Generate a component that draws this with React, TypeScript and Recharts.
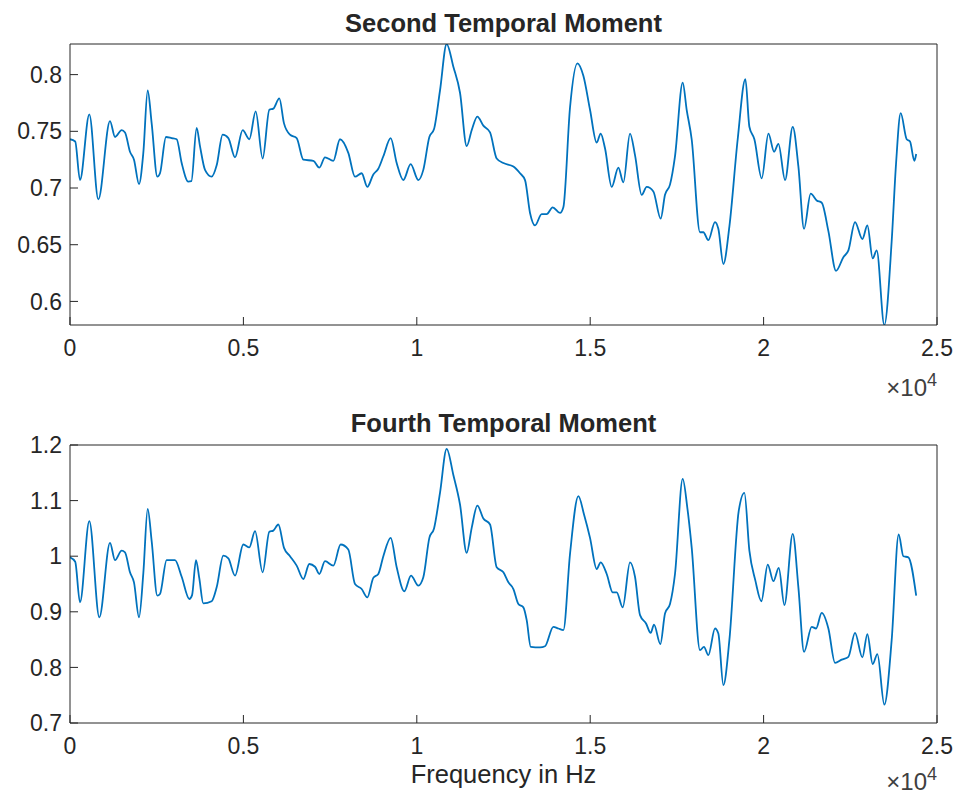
import { LineChart, Line, XAxis, YAxis } from 'recharts';

const FONT = '"Liberation Sans", Arial, Helvetica, sans-serif';
const INK = '#262626';
const BLUE = '#0072BD';

const FREQ_TICKS = [0, 5000, 10000, 15000, 20000, 25000];
const SECOND_TICKS = [0.6, 0.65, 0.7, 0.75, 0.8];
const FOURTH_TICKS = [0.7, 0.8, 0.9, 1, 1.1, 1.2];

// second temporal moment
const secondFreq = [
  0, 150, 288, 557, 817, 1153, 1298, 1490, 1586, 1730, 1845, 1990, 2114, 2240, 2355, 2518, 2595,
  2768, 2931, 3076, 3220, 3412, 3500, 3652, 3748, 3893, 4085, 4229, 4402, 4566, 4758, 4979, 5171,
  5354, 5555, 5748, 5863, 6036, 6171, 6344, 6536, 6728, 7017, 7190, 7353, 7593, 7785, 8025, 8218,
  8410, 8573, 8746, 8890, 9035, 9247, 9420, 9611, 9823, 10044, 10188, 10362, 10497, 10669, 10861,
  11054, 11246, 11439, 11583, 11746, 11919, 12112, 12304, 12497, 12785, 12977, 13121, 13265, 13409,
  13601, 13745, 13918, 14130, 14226, 14418, 14630, 14803, 14995, 15187, 15302, 15427, 15620, 15812,
  15956, 16148, 16292, 16485, 16629, 16821, 17033, 17157, 17301, 17445, 17667, 17782, 17926, 18166,
  18262, 18406, 18599, 18695, 18840, 19013, 19253, 19475, 19590, 19734, 19946, 20139, 20302, 20427,
  20619, 20840, 21003, 21166, 21358, 21531, 21676, 21868, 22089, 22300, 22445, 22636, 22848, 22992,
  23146, 23261, 23481, 23693, 23818, 23953, 24126, 24222, 24347, 24400,
];
const secondMoment = [
  0.743, 0.741, 0.707, 0.765, 0.69, 0.759, 0.745, 0.751, 0.749, 0.732, 0.725, 0.7035, 0.731, 0.786,
  0.757, 0.71, 0.713, 0.745, 0.744, 0.743, 0.722, 0.7056, 0.706, 0.753, 0.737, 0.716, 0.71, 0.72,
  0.747, 0.744, 0.727, 0.751, 0.743, 0.7675, 0.726, 0.769, 0.77, 0.779, 0.757, 0.747, 0.744, 0.725,
  0.724, 0.718, 0.727, 0.724, 0.743, 0.731, 0.71, 0.713, 0.701, 0.712, 0.717, 0.728, 0.744, 0.722,
  0.707, 0.721, 0.707, 0.716, 0.745, 0.752, 0.786, 0.827, 0.807, 0.784, 0.737, 0.751, 0.763, 0.755,
  0.749, 0.726, 0.722, 0.719, 0.713, 0.707, 0.678, 0.667, 0.677, 0.677, 0.683, 0.678, 0.683, 0.771,
  0.81, 0.799, 0.769, 0.74, 0.748, 0.735, 0.701, 0.718, 0.705, 0.748, 0.729, 0.694, 0.701, 0.697,
  0.673, 0.694, 0.703, 0.728, 0.793, 0.769, 0.743, 0.661, 0.661, 0.654, 0.67, 0.664, 0.633, 0.666,
  0.743, 0.796, 0.754, 0.743, 0.7085, 0.748, 0.732, 0.739, 0.707, 0.754, 0.719, 0.664, 0.695, 0.689,
  0.687, 0.662, 0.627, 0.639, 0.645, 0.67, 0.655, 0.667, 0.638, 0.645, 0.5792, 0.653, 0.721, 0.766,
  0.743, 0.741, 0.724, 0.73,
];

// fourth temporal moment
const fourthFreq = [
  0, 150, 288, 557, 846, 1153, 1298, 1490, 1586, 1730, 1845, 1990, 2114, 2240, 2355, 2518, 2595,
  2787, 3027, 3220, 3441, 3520, 3633, 3729, 3844, 4085, 4229, 4421, 4566, 4758, 4998, 5171, 5335,
  5555, 5748, 5863, 6007, 6171, 6344, 6536, 6728, 6901, 7065, 7190, 7353, 7593, 7804, 8025, 8218,
  8410, 8573, 8746, 8890, 9035, 9247, 9420, 9640, 9833, 10044, 10188, 10362, 10497, 10669, 10861,
  11054, 11246, 11439, 11583, 11746, 11919, 12112, 12304, 12497, 12641, 12785, 12929, 13073, 13169,
  13285, 13553, 13697, 13937, 14082, 14226, 14418, 14659, 14822, 14995, 15187, 15302, 15476, 15649,
  15764, 15937, 16148, 16292, 16437, 16610, 16744, 16840, 17023, 17157, 17301, 17445, 17667, 17801,
  17926, 18166, 18281, 18406, 18599, 18695, 18840, 19013, 19282, 19446, 19590, 19763, 19936, 20119,
  20283, 20437, 20600, 20840, 21003, 21166, 21387, 21512, 21676, 21868, 22060, 22252, 22445, 22636,
  22848, 22992, 23146, 23281, 23481, 23693, 23895, 24030, 24174, 24400,
];
const fourthMoment = [
  0.998, 0.99, 0.917, 1.063, 0.89, 1.024, 0.993, 1.01, 1.007, 0.971, 0.953, 0.89, 0.969, 1.085,
  1.027, 0.929, 0.932, 0.993, 0.993, 0.963, 0.923, 0.93, 0.993, 0.96, 0.915, 0.919, 0.944, 1.001,
  0.996, 0.965, 1.021, 1.016, 1.045, 0.971, 1.044, 1.046, 1.057, 1.015, 1.0, 0.983, 0.959, 0.986,
  0.981, 0.968, 0.991, 0.983, 1.021, 1.012, 0.95, 0.941, 0.926, 0.961, 0.968, 1.0, 1.033, 0.98,
  0.937, 0.965, 0.947, 0.962, 1.033, 1.05, 1.114, 1.193, 1.146, 1.093, 1.006, 1.051, 1.091, 1.068,
  1.057, 0.98, 0.971, 0.953, 0.941, 0.914, 0.908, 0.885, 0.837, 0.836, 0.838, 0.873, 0.87, 0.867,
  1.004, 1.108, 1.075, 1.033, 0.977, 0.989, 0.968, 0.935, 0.935, 0.908, 0.989, 0.963, 0.894, 0.879,
  0.862, 0.877, 0.842, 0.897, 0.914, 0.968, 1.139, 1.087, 1.016, 0.831, 0.837, 0.822, 0.87, 0.861,
  0.768, 0.849, 1.081, 1.114, 1.01, 0.956, 0.919, 0.985, 0.955, 0.979, 0.912, 1.04, 0.944, 0.828,
  0.873, 0.87, 0.898, 0.87, 0.808, 0.814, 0.819, 0.862, 0.818, 0.86, 0.806, 0.824, 0.733, 0.849,
  1.039, 1.0, 0.998, 0.929,
];

const secondData = secondFreq.map((f, i) => ({ f, v: secondMoment[i] }));
const fourthData = fourthFreq.map((f, i) => ({ f, v: fourthMoment[i] }));

const TICK_STYLE = { fill: INK, fontSize: 23, fontFamily: FONT };
const AXIS_LINE = { stroke: INK, strokeWidth: 1 };
const freqTick = (v: number) => String(v / 10000);
const valueTick = (v: number) => String(v);

interface PanelProps {
  data: Array<{ f: number; v: number }>;
  domain: [number, number];
  ticks: number[];
  top: number;
  height: number;
  marginTop: number;
  marginBottom: number;
}

function MomentPanel({ data, domain, ticks, top, height, marginTop, marginBottom }: PanelProps) {
  return (
    <div style={{ position: 'absolute', left: 0, top }}>
      <LineChart
        width={956}
        height={height}
        data={data}
        margin={{ top: marginTop, right: 18, bottom: marginBottom, left: 10 }}
      >
        <XAxis
          dataKey="f"
          type="number"
          domain={[0, 25000]}
          allowDataOverflow
          ticks={FREQ_TICKS}
          interval={0}
          tickFormatter={freqTick}
          tick={TICK_STYLE}
          tickSize={-8}
          tickMargin={23}
          axisLine={AXIS_LINE}
          tickLine={AXIS_LINE}
          height={40}
        />
        <XAxis
          xAxisId="top"
          orientation="top"
          type="number"
          domain={[0, 25000]}
          allowDataOverflow
          ticks={FREQ_TICKS}
          interval={0}
          tick={false}
          tickSize={-8}
          axisLine={AXIS_LINE}
          tickLine={AXIS_LINE}
          height={1}
        />
        <YAxis
          type="number"
          domain={domain}
          allowDataOverflow
          ticks={ticks}
          interval={0}
          tickFormatter={valueTick}
          tick={TICK_STYLE}
          tickSize={-8}
          tickMargin={16}
          axisLine={AXIS_LINE}
          tickLine={AXIS_LINE}
          width={60}
        />
        <YAxis
          yAxisId="right"
          orientation="right"
          type="number"
          domain={domain}
          allowDataOverflow
          ticks={ticks}
          interval={0}
          tick={false}
          tickSize={-8}
          axisLine={AXIS_LINE}
          tickLine={AXIS_LINE}
          width={1}
        />
        <Line
          type="monotone"
          dataKey="v"
          stroke={BLUE}
          strokeWidth={1.8}
          dot={false}
          activeDot={false}
          isAnimationActive={false}
        />
      </LineChart>
    </div>
  );
}

export default function App() {
  return (
    <div
      style={{
        position: 'absolute',
        left: 0,
        top: 0,
        width: 956,
        height: 795,
        background: '#fff',
        overflow: 'hidden',
        fontFamily: FONT,
      }}
    >
      <MomentPanel
        data={secondData}
        domain={[0.5792, 0.827]}
        ticks={SECOND_TICKS}
        top={0}
        height={370}
        marginTop={43}
        marginBottom={5}
      />
      <MomentPanel
        data={fourthData}
        domain={[0.7, 1.2]}
        ticks={FOURTH_TICKS}
        top={370}
        height={425}
        marginTop={74}
        marginBottom={32}
      />
      <svg
        width={956}
        height={795}
        style={{ position: 'absolute', left: 0, top: 0, pointerEvents: 'none' }}
        fontFamily={FONT}
        fill={INK}
      >
        <text x={503.5} y={32} textAnchor="middle" fontSize={25.5} fontWeight="bold">
          Second Temporal Moment
        </text>
        <text x={503.5} y={432} textAnchor="middle" fontSize={25.5} fontWeight="bold">
          Fourth Temporal Moment
        </text>
        <text x={503.5} y={783} textAnchor="middle" fontSize={25.5}>
          Frequency in Hz
        </text>
        <text x={937} y={396} textAnchor="end" fontSize={24} fill="#404040">
          ×10<tspan dy={-10} fontSize={18}>4</tspan>
        </text>
        <text x={937} y={790} textAnchor="end" fontSize={24} fill="#404040">
          ×10<tspan dy={-10} fontSize={18}>4</tspan>
        </text>
      </svg>
    </div>
  );
}
